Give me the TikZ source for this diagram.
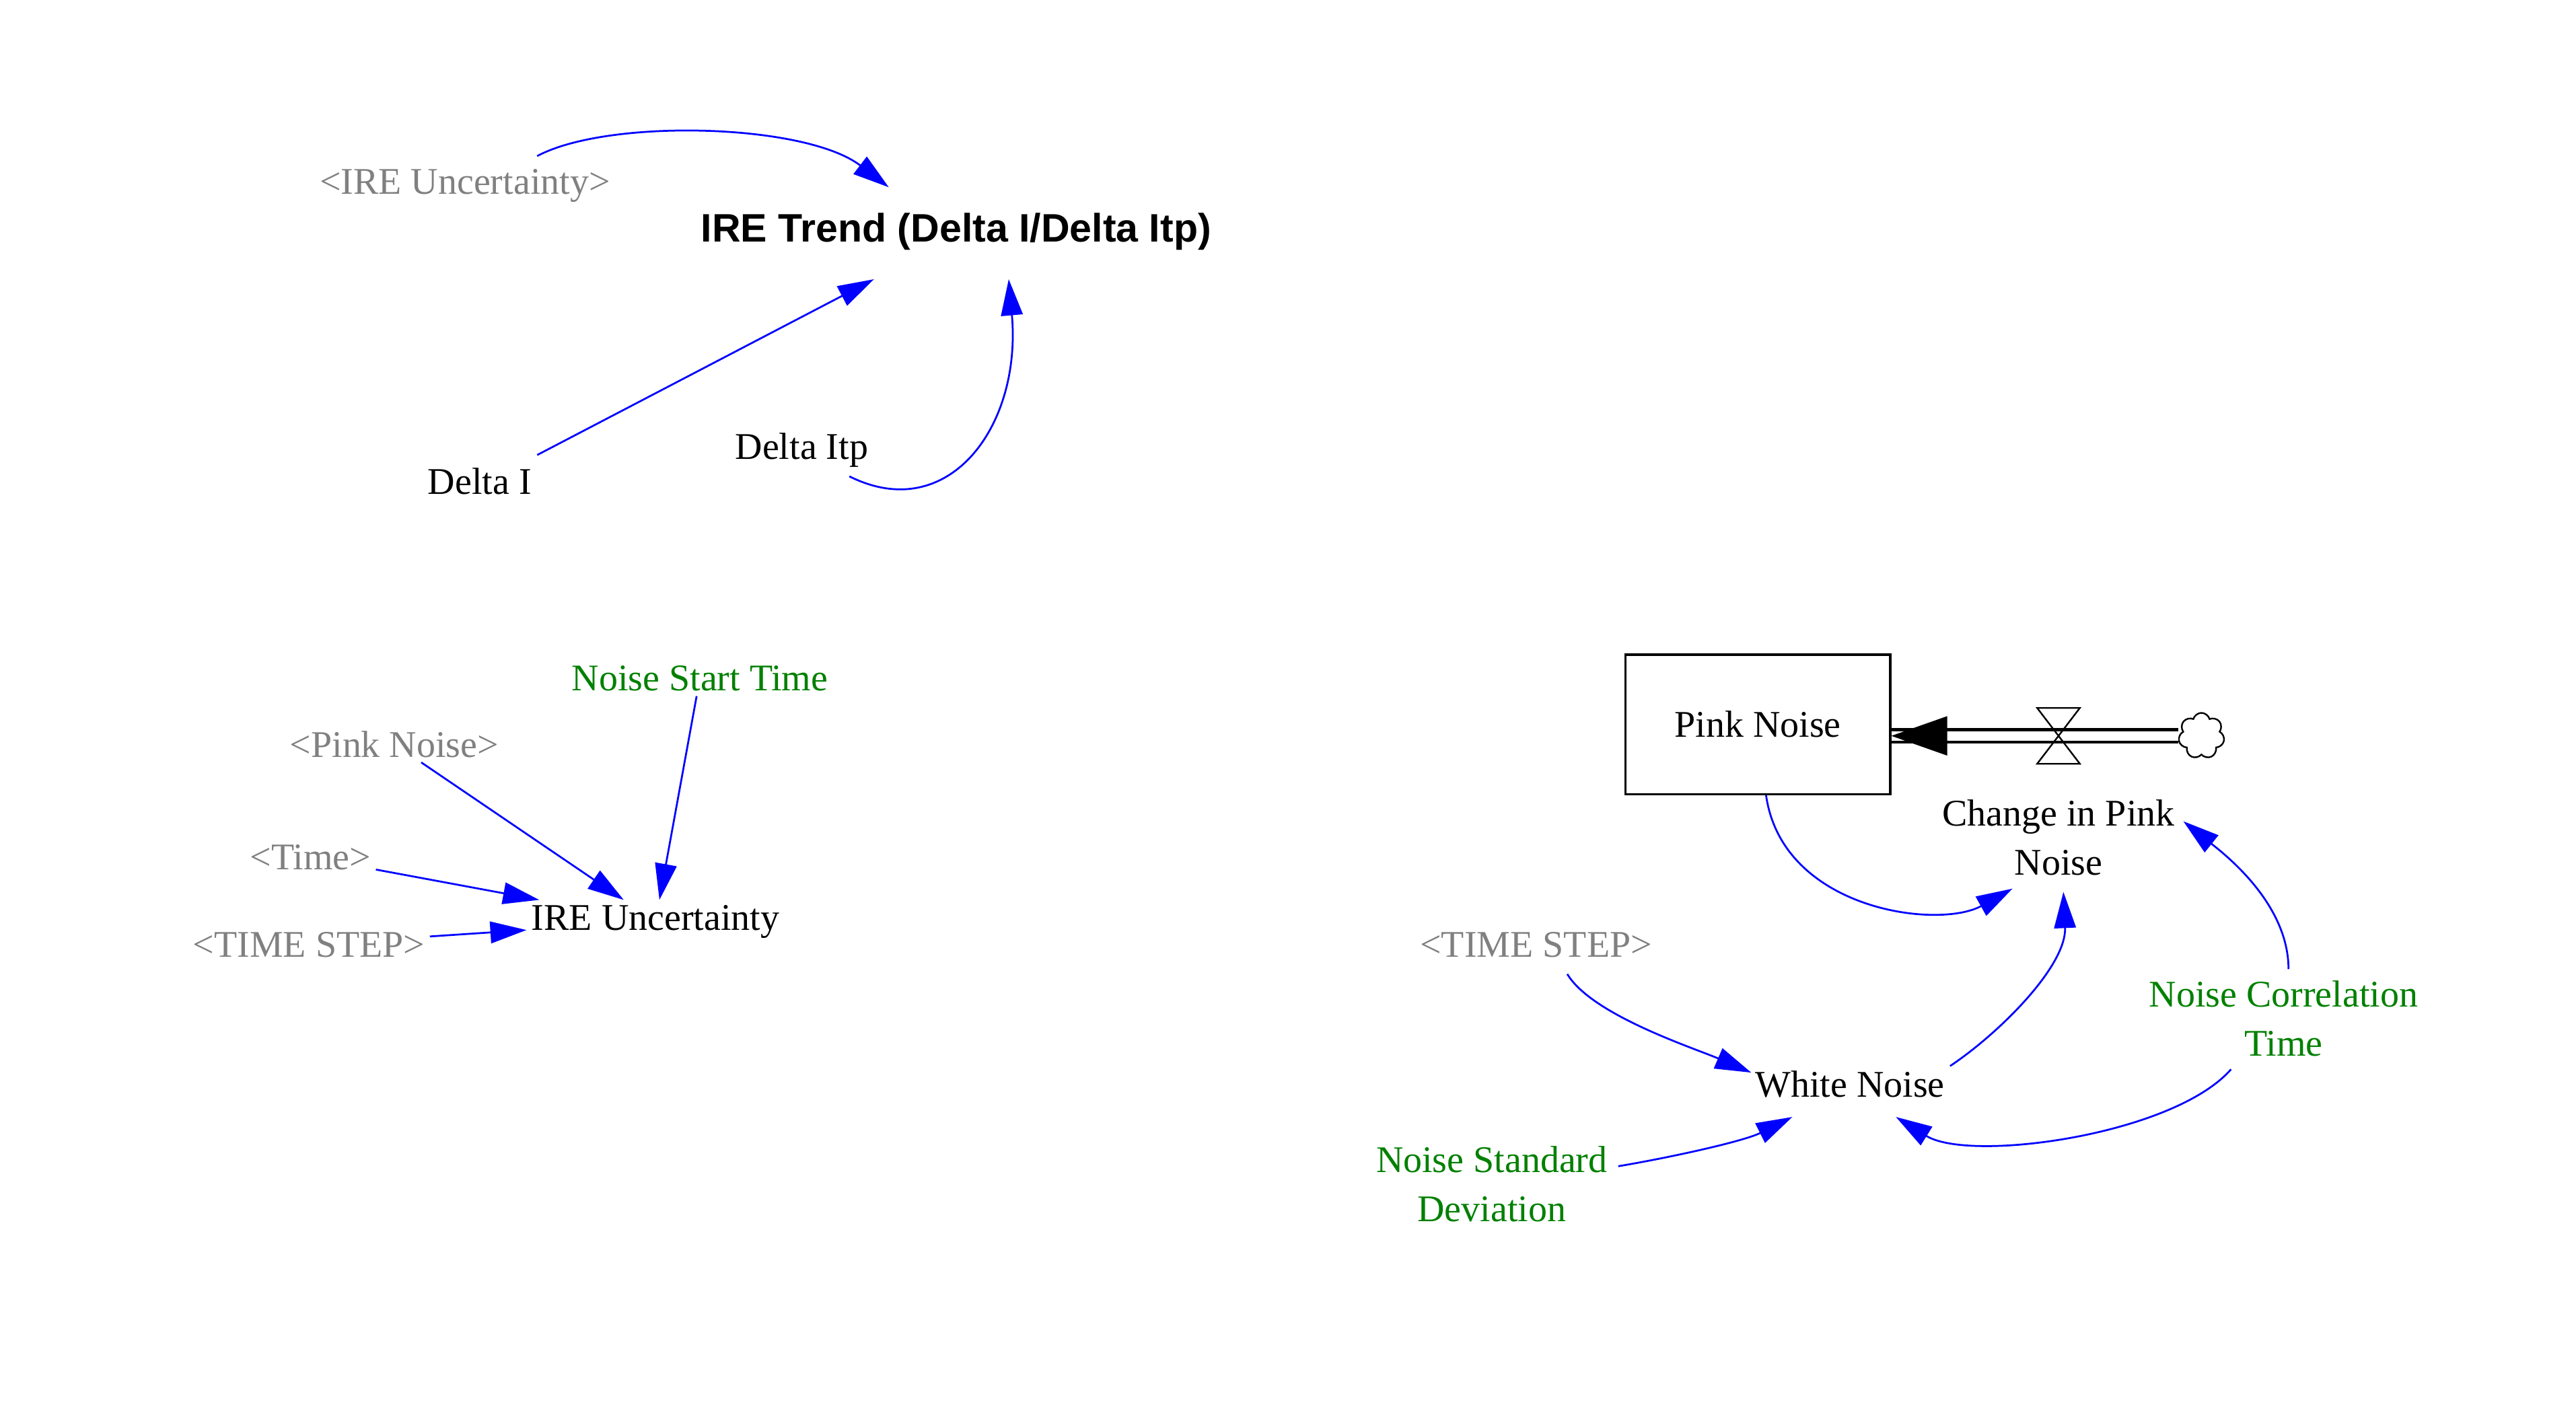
\documentclass[tikz,border=0pt]{standalone}
\usepackage{fontspec}
\setmainfont{Liberation Serif}
\setsansfont{Liberation Sans}
\usepackage{tikz}
\usetikzlibrary{positioning,arrows.meta,shapes.symbols}
\usepackage{xcolor}
\definecolor{vblue}{rgb}{0.0,0.0,1.0}
\definecolor{vgreen}{rgb}{0.0,0.5,0.0}
\definecolor{vgray}{rgb}{0.5,0.5,0.5}

\begin{document}
\begin{tikzpicture}[x=0.025cm,y=-0.025cm]

\fontsize{16.3}{21.3}\selectfont
\tikzstyle{basenode}=[align=center, inner sep=2pt];
\tikzstyle{var}=[basenode, black];
\tikzstyle{shadowvar}=[basenode, vgray];
\tikzstyle{constvar}=[basenode, vgreen];
\tikzstyle{stock}=[basenode, draw, line width=1pt, minimum width=4.025cm, minimum height=2.125cm];
\tikzstyle{srccloud}=[cloud, draw, cloud puffs=7, aspect=1, minimum size=0.7cm, inner sep=0pt, line width=0.7pt];
\tikzstyle{infl}=[vblue, line width=0.8pt, -{Triangle[length=0.55cm,width=0.33cm]}];
\tikzstyle{pipe}=[double, double distance=4.2pt, line width=1.3pt];

\useasboundingbox (0,0) rectangle (1568,865);

% IRE trend
\node[var, font=\fontsize{17.2}{20}\selectfont\sffamily\bfseries] (trend) at (582,141) {IRE Trend (Delta I/Delta Itp)};
\node[shadowvar] (ireuncref) at (283,113) {<IRE Uncertainty>};
\node[var] (deltai) at (292,293) {Delta I};
\node[var] (deltaitp) at (488,274) {Delta Itp};

% IRE uncertainty
\node[var] (ireunc) at (399,561) {IRE Uncertainty};
\node[constvar] (nst) at (426,413) {Noise Start Time};
\node[shadowvar] (pinkref) at (240,453) {<Pink Noise>};
\node[shadowvar] (timeref) at (189,522) {<Time>};
\node[shadowvar] (tsref) at (188,575) {<TIME STEP>};

% pink noise stock and flow
\node[stock] (pink) at (1070,441) {Pink Noise};
\node[srccloud] (src) at (1340,448) {};
\node[var] (change) at (1253,510) {Change in Pink\\Noise};
\coordinate (valve) at (src -| change);
\node[shadowvar] (tsref2) at (935,575) {<TIME STEP>};
\node[var] (white) at (1126,660) {White Noise};
\node[constvar] (nct) at (1390,620) {Noise Correlation\\Time};
\node[constvar] (nsd) at (908,721) {Noise Standard\\Deviation};

\draw[pipe] (src.west) -- (src.west -| pink.east);
\fill (src.west -| pink.east) -- ++(34,-12) -- ++(0,24) -- cycle;
\draw[line width=0.7pt] ([shift={(-13,-17)}]valve) -- ++(26,0) -- ++(-26,34) -- ++(26,0) -- cycle;

% links
\draw[infl] ([shift={(44,-18)}]ireuncref.center) .. controls +(43,-23) and +(-51,-39) .. ([shift={(-41,-27)}]trend.center);
\draw[infl] ([shift={(35,-16)}]deltai.center) -- ([shift={(-50,29)}]trend.center);
\draw[infl] ([shift={(29,16)}]deltaitp.center) .. controls +(60,30) and +(8,90) .. ([shift={(32,29)}]trend.center);

\draw[infl] (nst) -- (ireunc);
\draw[infl] (pinkref) -- (ireunc);
\draw[infl] (timeref) -- (ireunc);
\draw[infl] (tsref) -- (ireunc);

\draw[infl] ([shift={(5,0)}]pink.south) .. controls +(10,70) and +(-45,25) .. ([shift={(-28,31)}]change.center);
\draw[infl] ([shift={(61,-11)}]white.center) .. controls +(30,-20) and +(2,45) .. ([shift={(3,33)}]change.center);
\draw[infl] ([shift={(3,-30)}]nct.center) .. controls +(0,-40) and +(25,20) .. ([shift={(76,-10)}]change.center);
\draw[infl] ([shift={(-32,31)}]nct.center) .. controls +(-35,40) and +(45,28) .. ([shift={(28,20)}]white.center);
\draw[infl] ([shift={(19,18)}]tsref2.center) .. controls +(15,25) and +(-35,-15) .. ([shift={(-60,-7)}]white.center);
\draw[infl] ([shift={(77,-11)}]nsd.center) .. controls +(30,-5) and +(-30,15) .. ([shift={(-35,20)}]white.center);

\end{tikzpicture}
\end{document}
